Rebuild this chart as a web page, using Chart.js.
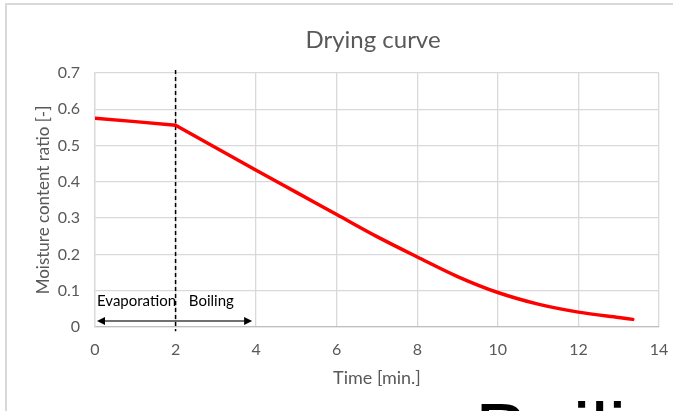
<!DOCTYPE html>
<html>
<head>
<meta charset="utf-8">
<script src="https://cdn.jsdelivr.net/npm/chart.js@4/dist/chart.umd.min.js"></script>
<style>
  html, body { margin: 0; padding: 0; background: #ffffff; overflow: hidden; }
  #wrap { position: relative; width: 673px; height: 411px; }
  #frame { position: absolute; left: 5px; top: 3px; width: 700px; height: 450px;
           border: 2px solid #d9d9d9; box-sizing: border-box; }
  #c { position: absolute; left: 0; top: 0; }
  #doc { position: absolute; left: 475px; top: 392px; font-family: "Liberation Sans", Arial, sans-serif;
         font-size: 80px; line-height: 1; color: #000; white-space: nowrap; }
</style>
</head>
<body>
<div id="wrap">
  <div id="frame"></div>
  <canvas id="c" width="673" height="411"></canvas>
  <div id="doc">Boiling</div>
</div>
<script>
// ---- data ----
const chartTitle = "Drying curve";
const xAxisTitle = "Time [min.]";
const yAxisTitle = "Moisture content ratio [-]";
const timeMin = [0, 1, 2, 3, 4, 5, 6, 7, 8, 9, 10, 11, 12, 13, 13.35];
const moistureRatio = [0.575, 0.566, 0.556, 0.494, 0.432, 0.371, 0.310, 0.249, 0.193, 0.139, 0.095, 0.063, 0.041, 0.026, 0.021];
const evaporationEndIndex = 2; // the corner at t = 2 min
const xTicks = [0, 2, 4, 6, 8, 10, 12, 14];
const yTicks = [0, 0.1, 0.2, 0.3, 0.4, 0.5, 0.6, 0.7];
const boundaryTime = 2;
const boundaryY = [0.708, -0.012];
const phaseLabels = ["Evaporation", "Boiling"];
const phaseLabelX = [0.05, 2.33];
const phaseLabelY = 0.072;
const arrowX = [0.05, 3.9];
const arrowY = 0.0165;

const FONT = "Lato, 'Open Sans', sans-serif";
const GREY = "#595959";

const points = timeMin.map((t, i) => ({x: t, y: moistureRatio[i]}));

const annotations = {
  id: 'annotations',
  afterDatasetsDraw(chart) {
    const {ctx, chartArea, scales: {x, y}} = chart;
    ctx.save();
    // chart title
    ctx.fillStyle = GREY;
    ctx.font = "24px " + FONT;
    ctx.textAlign = "center";
    ctx.textBaseline = "middle";
    ctx.fillText(chartTitle, (chartArea.left + chartArea.right) / 2 - 4, 40);
    // phase labels
    ctx.fillStyle = "#000000";
    ctx.font = "15px " + FONT;
    ctx.textAlign = "left";
    ctx.textBaseline = "middle";
    phaseLabels.forEach((t, i) => ctx.fillText(t, x.getPixelForValue(phaseLabelX[i]), y.getPixelForValue(phaseLabelY)));
    // double arrow
    const x0 = x.getPixelForValue(arrowX[0]), x1 = x.getPixelForValue(arrowX[1]);
    const ay = y.getPixelForValue(arrowY);
    ctx.strokeStyle = "#404040";
    ctx.fillStyle = "#000000";
    ctx.lineWidth = 1.5;
    ctx.beginPath();
    ctx.moveTo(x0 + 5, ay); ctx.lineTo(x1 - 5, ay);
    ctx.stroke();
    ctx.beginPath();
    ctx.moveTo(x0, ay); ctx.lineTo(x0 + 8, ay - 4); ctx.lineTo(x0 + 8, ay + 4); ctx.closePath();
    ctx.fill();
    ctx.beginPath();
    ctx.moveTo(x1, ay); ctx.lineTo(x1 - 8, ay - 4); ctx.lineTo(x1 - 8, ay + 4); ctx.closePath();
    ctx.fill();
    ctx.restore();
  }
};

const lineStyle = {
  showLine: true,
  borderColor: '#ff0000',
  borderWidth: 3.5,
  pointRadius: 0,
  borderCapStyle: 'round',
  borderJoinStyle: 'round'
};

new Chart(document.getElementById('c'), {
  type: 'scatter',
  data: {
    datasets: [
      Object.assign({ label: 'Evaporation', data: points.slice(0, evaporationEndIndex + 1), tension: 0 }, lineStyle),
      Object.assign({ label: 'Boiling', data: points.slice(evaporationEndIndex), cubicInterpolationMode: 'monotone' }, lineStyle),
      {
        label: 'Boundary',
        data: boundaryY.map(v => ({x: boundaryTime, y: v})),
        showLine: true,
        borderColor: '#000000',
        borderWidth: 1.5,
        borderDash: [4, 3],
        pointRadius: 0,
        clip: false
      }
    ]
  },
  options: {
    responsive: false,
    animation: false,
    events: [],
    layout: { padding: { left: 0, right: 14, top: 73, bottom: 0 } },
    plugins: {
      legend: { display: false },
      tooltip: { enabled: false },
      title: { display: false }
    },
    scales: {
      x: {
        type: 'linear',
        min: 0, max: 14,
        afterBuildTicks: s => { s.ticks = xTicks.map(v => ({value: v})); },
        afterFit: s => { s.height = 84; s.paddingLeft = 0; s.paddingRight = 0; },
        ticks: { color: GREY, font: { family: FONT, size: 16 }, padding: 13 },
        grid: { color: '#d9d9d9', lineWidth: 1.3, drawTicks: false },
        border: { color: '#bfbfbf', width: 1.3 },
        title: { display: true, text: xAxisTitle, color: GREY, font: { family: FONT, size: 18 }, padding: { top: 0, bottom: 22 } }
      },
      y: {
        type: 'linear',
        min: 0, max: 0.7,
        afterBuildTicks: s => { s.ticks = yTicks.map(v => ({value: v})); },
        afterFit: s => { s.width = 95; s.paddingTop = 0; s.paddingBottom = 0; },
        ticks: { color: GREY, font: { family: FONT, size: 16 }, padding: 15, callback: v => String(Math.round(v * 10) / 10) },
        grid: { color: '#d9d9d9', lineWidth: 1.3, drawTicks: false },
        border: { color: '#d9d9d9', width: 1.3 },
        title: { display: true, text: yAxisTitle, color: GREY, font: { family: FONT, size: 17 }, padding: { top: 33, bottom: 0 } }
      }
    }
  },
  plugins: [annotations]
});
</script>
</body>
</html>
